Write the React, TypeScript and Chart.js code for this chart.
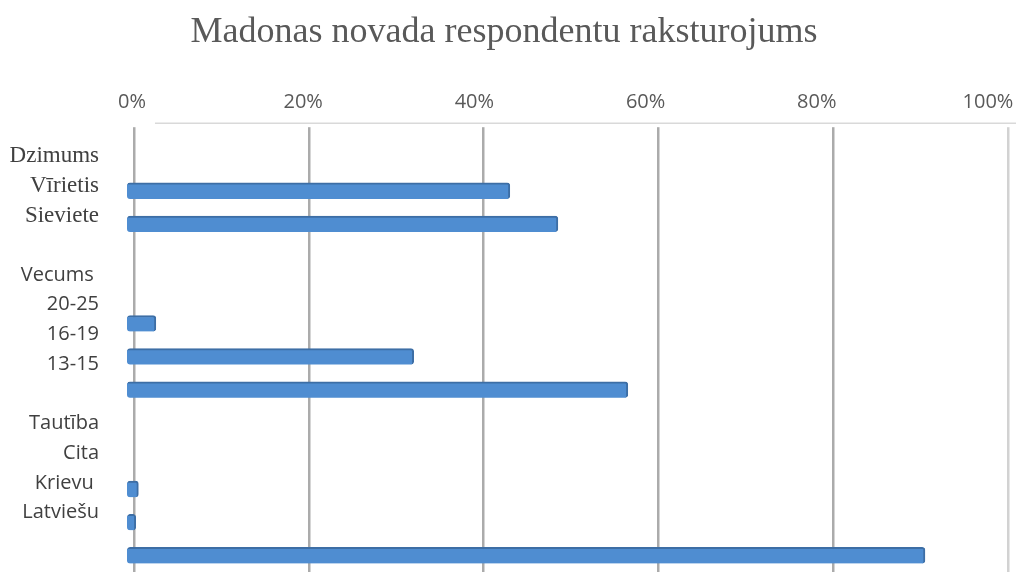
import React, { useEffect, useRef } from "react";
import { Chart, registerables } from "chart.js";

Chart.register(...registerables);

const TITLE = "Madonas novada respondentu raksturojums";

// bar slots (hidden category axis)
const CATEGORIES = [
  "Dzimums", "Vīrietis", "Sieviete", "",
  "Vecums", "20-25", "16-19", "13-15", "",
  "Tautība", "Cita", "Krievu", "Latviešu",
];

// percentages
const SHARES = [null, 43, 48.5, null, null, 2.5, 32, 56.5, null, null, 0.5, 0.2, 90.5];

// visible left tick labels (finer category grid, blanks keep the spacing)
const LEFT_LABELS = [
  "", "Dzimums", "", "Vīrietis", "", "Sieviete", "", "", "",
  "Vecums ", "", "20-25", "", "16-19", "", "13-15", "", "", "",
  "Tautība", "", "Cita", "", "Krievu ", "", "Latviešu", "", "", "", "",
];
const SERIF_LABELS = ["Dzimums", "Vīrietis", "Sieviete"];

// percentage axis
const X_MIN = 0;
const X_MAX = 100;
const X_TICKS = [0, 20, 40, 60, 80, 100];
// the label row of the 3-D chart is drawn in slight perspective
const X_LABEL_MIN = 0.2336;
const X_LABEL_MAX = 102.34;

const floorEdge = {
  id: "floorEdge",
  beforeDatasetsDraw(chart: any) {
    const { ctx, chartArea } = chart;
    const xs = chart.scales.x;
    const y = chartArea.top - 18;
    ctx.save();
    ctx.strokeStyle = "#d9d9d9";
    ctx.lineWidth = 1.5;
    ctx.beginPath();
    ctx.moveTo(xs.getPixelForValue(2.4), y);
    ctx.lineTo(chart.width, y);
    ctx.stroke();
    ctx.restore();
  },
};

const fixedTicks = (s: any) => {
  s.ticks = X_TICKS.map((v) => ({ value: v }));
};

export default function App() {
  const ref = useRef<HTMLCanvasElement | null>(null);

  useEffect(() => {
    if (!ref.current) return;
    const chart = new Chart(ref.current, {
      type: "bar",
      data: {
        labels: CATEGORIES,
        datasets: [
          {
            data: SHARES as any,
            xAxisID: "x",
            yAxisID: "y",
            backgroundColor: "#4f8dd1",
            borderColor: "#3d6ea5",
            borderWidth: { top: 2, right: 2, bottom: 0, left: 0 } as any,
            borderRadius: 3,
            borderSkipped: false,
            barThickness: 16,
            base: -0.8,
            clip: false as any,
          },
        ],
      },
      plugins: [floorEdge],
      options: {
        indexAxis: "y",
        responsive: false,
        animation: false,
        layout: { padding: { left: 0, right: 8, top: 0, bottom: 2 } },
        plugins: {
          legend: { display: false },
          tooltip: { enabled: false },
          title: {
            display: true,
            text: TITLE,
            color: "#595959",
            font: { family: "'Liberation Serif', 'Times New Roman', serif", size: 36, weight: "normal" },
            padding: { top: 11, bottom: 23 },
          },
        },
        scales: {
          x: {
            type: "linear",
            position: "top",
            weight: 0,
            min: X_MIN,
            max: X_MAX,
            afterBuildTicks: fixedTicks,
            ticks: { display: false },
            grid: {
              color: (c: any) => (c.tick && c.tick.value === X_MAX ? "#d2d2d2" : "#ababab"),
              lineWidth: 2.5,
              drawTicks: true,
              tickLength: 14,
            },
            border: { display: false },
            afterFit: (s: any) => {
              s.paddingLeft = 0;
              s.paddingRight = 0;
            },
          },
          xl: {
            type: "linear",
            position: "top",
            weight: 1,
            min: X_LABEL_MIN,
            max: X_LABEL_MAX,
            afterBuildTicks: fixedTicks,
            ticks: {
              padding: 13,
              color: "#595959",
              font: { family: "'Open Sans', sans-serif", size: 20 },
              callback: (v: any) => `${v}%`,
            },
            grid: { display: false, drawTicks: false },
            border: { display: false },
            afterFit: (s: any) => {
              s.paddingLeft = 0;
              s.paddingRight = 0;
            },
          },
          y: {
            type: "category",
            display: false,
            offset: true,
          },
          yl: {
            type: "category",
            position: "left",
            labels: LEFT_LABELS,
            offset: false,
            min: 0,
            max: LEFT_LABELS.length - 1,
            grid: { display: false, drawTicks: false },
            border: { display: false },
            ticks: {
              autoSkip: false,
              padding: 35,
              color: "#404040",
              font: (c: any) => {
                const lbl = LEFT_LABELS[c.index] || "";
                return SERIF_LABELS.includes(lbl.trim())
                  ? { family: "'Liberation Serif', 'Times New Roman', serif", size: 23 }
                  : { family: "'Open Sans', sans-serif", size: 20 };
              },
            },
            afterFit: (s: any) => {
              s.width = 134;
              s.paddingTop = 0;
              s.paddingBottom = 0;
            },
          },
        },
      } as any,
    });
    return () => chart.destroy();
  }, []);

  return (
    <div style={{ position: "absolute", left: 0, top: 0, width: 1016, height: 574, background: "#ffffff" }}>
      <canvas ref={ref} width={1016} height={574} />
    </div>
  );
}
